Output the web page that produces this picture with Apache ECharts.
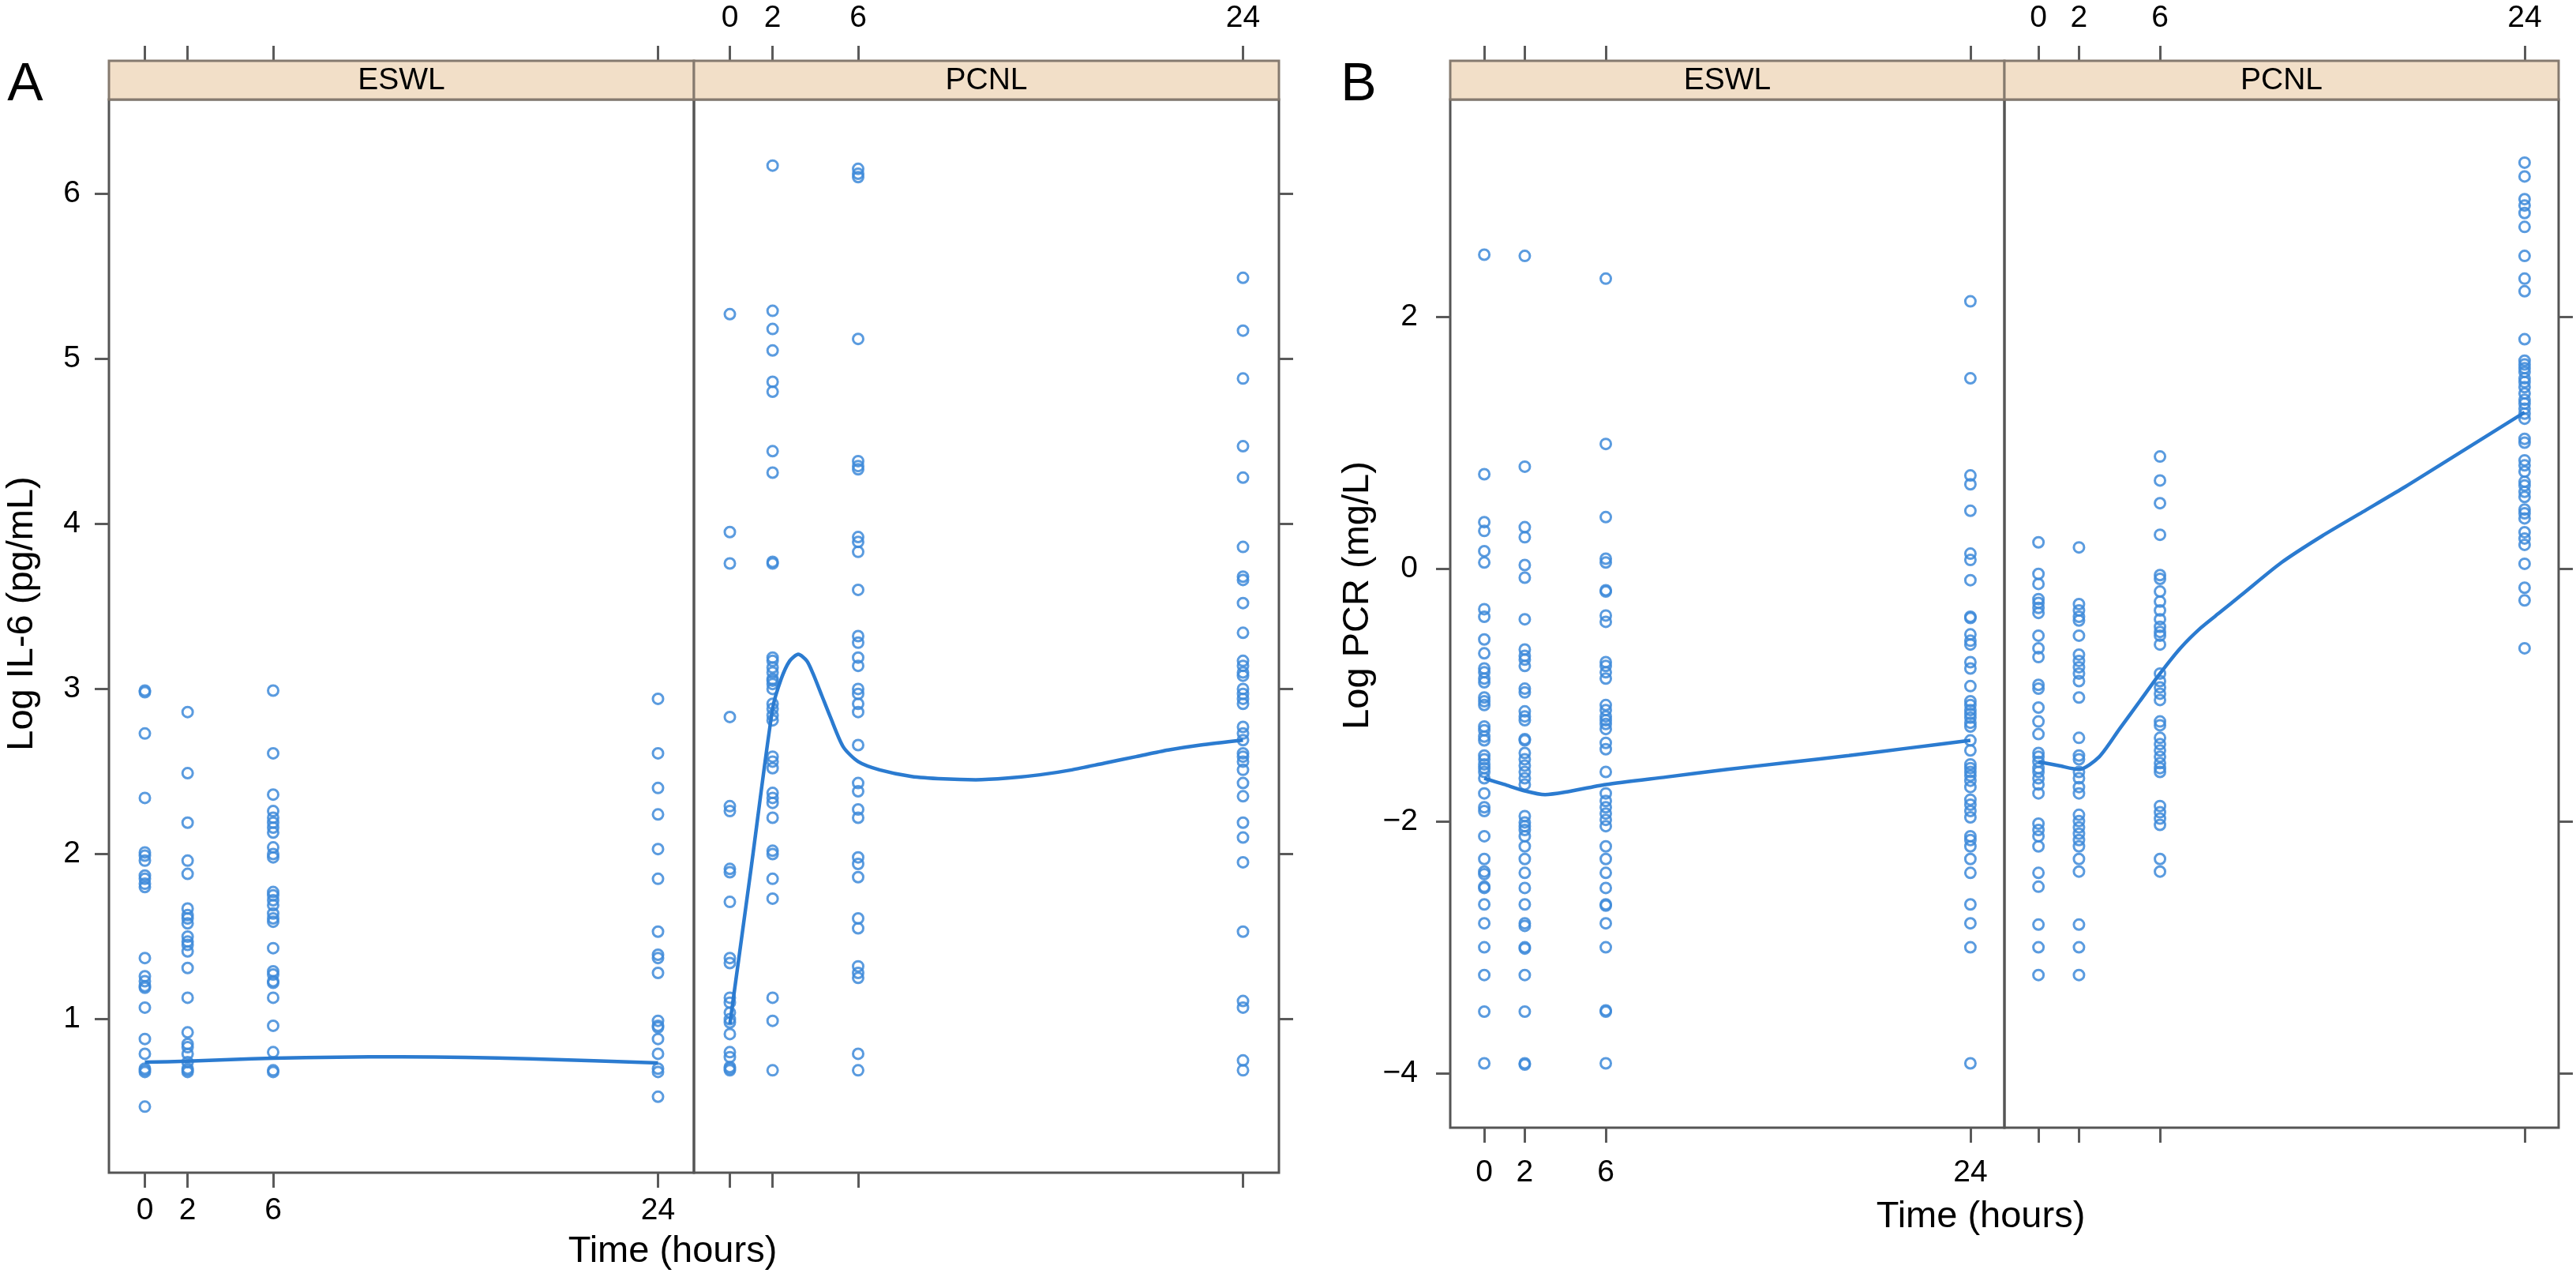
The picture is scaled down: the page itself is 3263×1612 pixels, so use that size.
<!DOCTYPE html>
<html><head><meta charset="utf-8">
<script src="https://cdn.jsdelivr.net/npm/echarts@6/dist/echarts.min.js"></script>
<style>html,body{margin:0;padding:0;background:#fff}#c{width:3263px;height:1612px}</style>
</head><body><div id="c"></div>
<script>
// ---------- tick / category arrays ----------
const timePoints = [0, 2, 6, 24];
const il6TickValues = [1, 2, 3, 4, 5, 6];
const pcrTickValues = [-4, -2, 0, 2];
const panelNames = ['ESWL', 'PCNL'];

// ---------- Panel A : Log IL-6 ----------
const il6_ESWL_0h = [2.99, 2.98, 2.73, 2.34, 2.01, 1.99, 1.96, 1.87, 1.85, 1.82, 1.80, 1.37, 1.26, 1.23, 1.20, 1.19, 1.07, 0.88, 0.79, 0.70, 0.69, 0.68, 0.47];
const il6_ESWL_2h = [2.86, 2.49, 2.19, 1.96, 1.88, 1.67, 1.63, 1.61, 1.58, 1.50, 1.47, 1.45, 1.41, 1.31, 1.13, 0.92, 0.85, 0.83, 0.79, 0.74, 0.70, 0.69, 0.68];
const il6_ESWL_6h = [2.99, 2.61, 2.36, 2.26, 2.22, 2.19, 2.16, 2.13, 2.04, 2.00, 1.98, 1.77, 1.75, 1.72, 1.69, 1.64, 1.61, 1.59, 1.43, 1.29, 1.27, 1.23, 1.22, 1.13, 0.96, 0.80, 0.69, 0.68];
const il6_ESWL_24h = [2.94, 2.61, 2.40, 2.24, 2.03, 1.85, 1.53, 1.39, 1.37, 1.28, 0.99, 0.96, 0.95, 0.88, 0.79, 0.70, 0.68, 0.53];
const il6_ESWL_curveT = [0, 2, 4, 6, 9, 12, 15, 18, 21, 24];
const il6_ESWL_curveV = [0.74, 0.745, 0.755, 0.764, 0.770, 0.772, 0.768, 0.760, 0.748, 0.735];

const il6_PCNL_0h = [5.27, 3.95, 3.76, 2.83, 2.29, 2.26, 1.91, 1.89, 1.71, 1.37, 1.34, 1.13, 1.10, 1.04, 1.00, 0.98, 0.91, 0.80, 0.77, 0.71, 0.70, 0.69];
const il6_PCNL_2h = [6.17, 5.29, 5.18, 5.05, 4.86, 4.80, 4.44, 4.31, 3.77, 3.76, 3.19, 3.17, 3.13, 3.10, 3.06, 3.05, 3.03, 3.00, 2.91, 2.88, 2.84, 2.81, 2.59, 2.56, 2.52, 2.37, 2.34, 2.31, 2.22, 2.02, 2.00, 1.85, 1.73, 1.13, 0.99, 0.69];
const il6_PCNL_6h = [6.15, 6.12, 6.10, 5.12, 4.38, 4.35, 4.33, 3.92, 3.89, 3.83, 3.60, 3.32, 3.28, 3.19, 3.14, 3.00, 2.97, 2.91, 2.86, 2.66, 2.43, 2.38, 2.27, 2.22, 1.98, 1.94, 1.86, 1.61, 1.55, 1.32, 1.28, 1.25, 0.79, 0.69];
const il6_PCNL_24h = [5.49, 5.17, 4.88, 4.47, 4.28, 3.86, 3.68, 3.66, 3.52, 3.34, 3.17, 3.14, 3.10, 3.08, 3.00, 2.97, 2.94, 2.91, 2.77, 2.73, 2.69, 2.61, 2.59, 2.56, 2.51, 2.43, 2.35, 2.19, 2.10, 1.95, 1.53, 1.11, 1.07, 0.75, 0.69];
const il6_PCNL_curveT = [0, 1, 2, 2.4, 2.8, 3.2, 3.6, 3.9, 4.3, 4.7, 5.3, 6, 7, 8.5, 10, 11.5, 13, 14.5, 16, 17.5, 19, 20.5, 22, 24];
const il6_PCNL_curveV = [0.97, 1.92, 2.88, 3.06, 3.17, 3.21, 3.17, 3.09, 2.96, 2.83, 2.65, 2.56, 2.51, 2.47, 2.455, 2.45, 2.46, 2.48, 2.51, 2.55, 2.59, 2.63, 2.66, 2.69];

// ---------- Panel B : Log PCR ----------
const pcr_ESWL_0h = [2.49, 0.75, 0.37, 0.30, 0.14, 0.05, -0.32, -0.38, -0.56, -0.67, -0.79, -0.82, -0.87, -0.90, -1.02, -1.05, -1.08, -1.25, -1.28, -1.33, -1.36, -1.48, -1.51, -1.55, -1.58, -1.61, -1.66, -1.78, -1.89, -1.92, -2.12, -2.30, -2.40, -2.42, -2.52, -2.53, -2.66, -2.81, -3.00, -3.22, -3.51, -3.92];
const pcr_ESWL_2h = [2.48, 0.81, 0.33, 0.25, 0.03, -0.07, -0.40, -0.64, -0.69, -0.72, -0.77, -0.95, -0.98, -1.13, -1.17, -1.20, -1.35, -1.36, -1.46, -1.51, -1.56, -1.61, -1.66, -1.71, -1.96, -2.01, -2.04, -2.07, -2.12, -2.20, -2.30, -2.41, -2.53, -2.66, -2.81, -2.83, -3.00, -3.01, -3.22, -3.51, -3.92, -3.93];
const pcr_ESWL_6h = [2.30, 0.99, 0.41, 0.08, 0.05, -0.17, -0.18, -0.37, -0.42, -0.74, -0.77, -0.82, -0.87, -1.08, -1.12, -1.17, -1.20, -1.23, -1.27, -1.38, -1.43, -1.61, -1.78, -1.84, -1.89, -1.94, -1.99, -2.04, -2.20, -2.30, -2.41, -2.53, -2.66, -2.67, -2.81, -3.00, -3.50, -3.51, -3.92];
const pcr_ESWL_24h = [2.12, 1.51, 0.74, 0.67, 0.46, 0.12, 0.07, -0.09, -0.38, -0.39, -0.52, -0.57, -0.60, -0.74, -0.79, -0.93, -1.05, -1.08, -1.12, -1.15, -1.18, -1.22, -1.25, -1.36, -1.44, -1.55, -1.58, -1.61, -1.64, -1.68, -1.73, -1.83, -1.87, -1.92, -1.97, -2.12, -2.15, -2.20, -2.30, -2.41, -2.66, -2.81, -3.00, -3.92];
const pcr_ESWL_curveT = [0, 1, 2, 3, 4, 6, 9, 12, 15, 18, 21, 24];
const pcr_ESWL_curveV = [-1.66, -1.71, -1.76, -1.79, -1.77, -1.71, -1.65, -1.59, -1.535, -1.48, -1.42, -1.36];

const pcr_PCNL_0h = [0.21, -0.04, -0.12, -0.24, -0.27, -0.31, -0.35, -0.53, -0.63, -0.70, -0.92, -0.95, -1.10, -1.21, -1.31, -1.46, -1.49, -1.53, -1.58, -1.61, -1.66, -1.71, -1.78, -2.02, -2.07, -2.12, -2.20, -2.41, -2.52, -2.82, -3.00, -3.22];
const pcr_PCNL_2h = [0.17, -0.28, -0.33, -0.38, -0.41, -0.53, -0.68, -0.73, -0.78, -0.83, -0.89, -1.02, -1.34, -1.48, -1.51, -1.61, -1.66, -1.73, -1.78, -1.95, -2.00, -2.05, -2.10, -2.15, -2.20, -2.30, -2.40, -2.82, -3.00, -3.22];
const pcr_PCNL_6h = [0.89, 0.70, 0.52, 0.27, -0.05, -0.08, -0.18, -0.26, -0.33, -0.40, -0.46, -0.50, -0.53, -0.60, -0.83, -0.89, -0.94, -0.99, -1.04, -1.21, -1.24, -1.34, -1.39, -1.44, -1.49, -1.54, -1.58, -1.61, -1.88, -1.93, -1.98, -2.03, -2.30, -2.40];
const pcr_PCNL_24h = [3.22, 3.11, 2.93, 2.88, 2.82, 2.71, 2.48, 2.30, 2.20, 1.82, 1.65, 1.62, 1.59, 1.56, 1.51, 1.48, 1.44, 1.39, 1.34, 1.31, 1.27, 1.23, 1.19, 1.03, 1.00, 0.86, 0.82, 0.77, 0.69, 0.66, 0.61, 0.57, 0.47, 0.44, 0.40, 0.29, 0.24, 0.19, 0.04, -0.15, -0.25, -0.63];
const pcr_PCNL_curveT = [0, 1, 2, 3, 4, 5, 6, 7, 8, 9, 10, 12, 14, 16, 18, 20, 22, 24];
const pcr_PCNL_curveV = [-1.53, -1.56, -1.59, -1.49, -1.27, -1.05, -0.83, -0.63, -0.47, -0.34, -0.21, 0.05, 0.26, 0.45, 0.64, 0.84, 1.04, 1.24];

// ---------- helpers ----------
const FONT = "'Liberation Sans', Arial, Helvetica, sans-serif";
function pts(arrs) { const out = []; arrs.forEach((a, i) => a.forEach(v => out.push([timePoints[i], v]))); return out; }
function curve(t, v) { return t.map((x, i) => [x, v[i]]); }

const groups = [
  { pts: pts([il6_ESWL_0h, il6_ESWL_2h, il6_ESWL_6h, il6_ESWL_24h]), cur: curve(il6_ESWL_curveT, il6_ESWL_curveV) },
  { pts: pts([il6_PCNL_0h, il6_PCNL_2h, il6_PCNL_6h, il6_PCNL_24h]), cur: curve(il6_PCNL_curveT, il6_PCNL_curveV) },
  { pts: pts([pcr_ESWL_0h, pcr_ESWL_2h, pcr_ESWL_6h, pcr_ESWL_24h]), cur: curve(pcr_ESWL_curveT, pcr_ESWL_curveV) },
  { pts: pts([pcr_PCNL_0h, pcr_PCNL_2h, pcr_PCNL_6h, pcr_PCNL_24h]), cur: curve(pcr_PCNL_curveT, pcr_PCNL_curveV) }
];

// layout
const PT = 126;           // plot top
const ST = 77;            // strip top
const grids = [
  { left: 138, top: PT, width: 741, height: 1359 },
  { left: 879, top: PT, width: 741, height: 1359 },
  { left: 1837, top: PT, width: 702, height: 1302 },
  { left: 2539, top: PT, width: 702, height: 1302 }
];
const XMIN = -1.68, XMAX = 25.68;
const TICKC = '#5a5a5a';

function xAx(gi, pos, showLab, margin) {
  return {
    type: 'value', gridIndex: gi, position: pos, offset: pos === 'top' ? (PT - ST) : 0,
    min: XMIN, max: XMAX,
    axisLine: { show: false, onZero: false },
    axisTick: { show: true, customValues: timePoints, length: 19, lineStyle: { color: TICKC, width: 3 } },
    axisLabel: { show: showLab, customValues: timePoints, fontSize: 39, fontFamily: FONT, color: '#000', margin: margin },
    splitLine: { show: false }
  };
}
function yAx(gi, pos, showLab, min, max, ticks, margin) {
  return {
    type: 'value', gridIndex: gi, position: pos, min: min, max: max,
    axisLine: { show: false, onZero: false },
    axisTick: { show: true, customValues: ticks, length: 18, lineStyle: { color: TICKC, width: 3 } },
    axisLabel: { show: showLab, customValues: ticks, fontSize: 39, fontFamily: FONT, color: '#000', margin: margin,
      formatter: v => String(v).replace('-', '\u2212') },
    splitLine: { show: false }
  };
}

const xAxes = [
  xAx(0, 'bottom', true, 29), xAx(0, 'top', false, 34),
  xAx(1, 'bottom', false, 29), xAx(1, 'top', true, 34),
  xAx(2, 'bottom', true, 38), xAx(2, 'top', false, 34),
  xAx(3, 'bottom', false, 38), xAx(3, 'top', true, 34)
];
const yAxes = [
  yAx(0, 'left', true, 0.07, 6.57, il6TickValues, 36),
  yAx(1, 'right', false, 0.07, 6.57, il6TickValues, 36),
  yAx(2, 'left', true, -4.43, 3.72, pcrTickValues, 41),
  yAx(3, 'right', false, -4.43, 3.72, pcrTickValues, 41)
];

const series = [];
groups.forEach((g, i) => {
  series.push({
    type: 'scatter', xAxisIndex: i * 2, yAxisIndex: i, data: g.pts, symbol: 'circle', symbolSize: 13,
    itemStyle: { color: 'rgba(0,0,0,0)', borderColor: '#3d8ad9', borderWidth: 3, opacity: 0.85 },
    silent: true, z: 3
  });
  series.push({
    type: 'line', xAxisIndex: i * 2, yAxisIndex: i, data: g.cur, smooth: 0.25, symbol: 'none',
    lineStyle: { color: '#2b7bd0', width: 4.5 }, silent: true, z: 4
  });
});

const graphic = [];
grids.forEach((g, i) => {
  graphic.push({ type: 'rect', z: 10, shape: { x: g.left, y: ST, width: g.width, height: PT - ST },
    style: { fill: '#f2dfc8', stroke: '#857a6f', lineWidth: 3 } });
  graphic.push({ type: 'text', z: 11, x: g.left + g.width / 2, y: (ST + PT) / 2 + 1,
    style: { text: panelNames[i % 2], fontSize: 39, fontFamily: FONT, fill: '#000', textAlign: 'center', textVerticalAlign: 'middle' } });
});
graphic.push({ type: 'text', x: 32, y: 108, style: { text: 'A', fontSize: 68, fontFamily: FONT, fill: '#000', textAlign: 'center', textVerticalAlign: 'middle' } });
graphic.push({ type: 'text', x: 1721, y: 108, style: { text: 'B', fontSize: 68, fontFamily: FONT, fill: '#000', textAlign: 'center', textVerticalAlign: 'middle' } });
graphic.push({ type: 'text', x: 28, y: 777, rotation: Math.PI / 2, style: { text: 'Log IL-6 (pg/mL)', fontSize: 47, fontFamily: FONT, fill: '#000', textAlign: 'center', textVerticalAlign: 'middle' } });
graphic.push({ type: 'text', x: 1720, y: 754, rotation: Math.PI / 2, style: { text: 'Log PCR (mg/L)', fontSize: 47, fontFamily: FONT, fill: '#000', textAlign: 'center', textVerticalAlign: 'middle' } });
graphic.push({ type: 'text', x: 852, y: 1585, style: { text: 'Time (hours)', fontSize: 47, fontFamily: FONT, fill: '#000', textAlign: 'center', textVerticalAlign: 'middle' } });
graphic.push({ type: 'text', x: 2509, y: 1541, style: { text: 'Time (hours)', fontSize: 47, fontFamily: FONT, fill: '#000', textAlign: 'center', textVerticalAlign: 'middle' } });

const chart = echarts.init(document.getElementById('c'), null, { renderer: 'canvas' });
chart.setOption({
  animation: false,
  backgroundColor: '#fff',
  grid: grids.map(g => Object.assign({ show: true, borderColor: '#555', borderWidth: 3, backgroundColor: 'transparent', containLabel: false }, g)),
  xAxis: xAxes,
  yAxis: yAxes,
  series: series,
  graphic: graphic
});
</script>
</body></html>
